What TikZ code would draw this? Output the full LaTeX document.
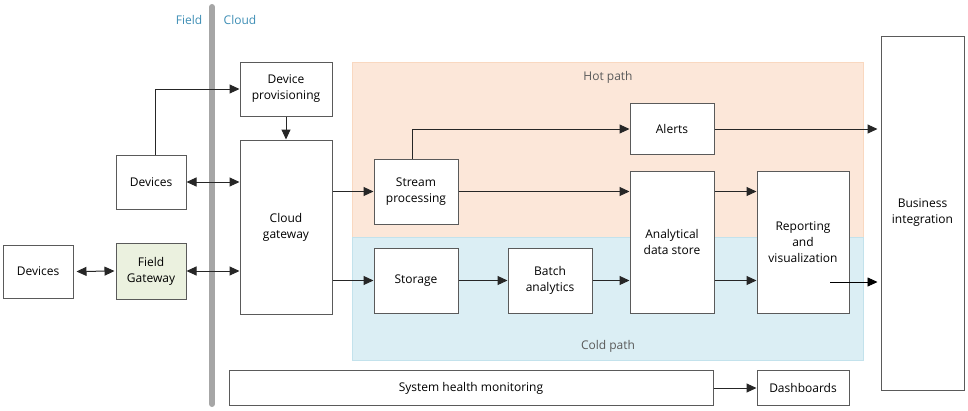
\documentclass[tikz,border=0pt]{standalone}
\usepackage{fontspec}
\setmainfont{Open Sans}
\usetikzlibrary{arrows.meta}
\definecolor{edge}{HTML}{5A5A5A}
\definecolor{hotfill}{HTML}{FCE7D9}
\definecolor{hotline}{HTML}{F9D8C0}
\definecolor{coldfill}{HTML}{DBEEF4}
\definecolor{coldline}{HTML}{C3E2EC}
\definecolor{gwfill}{HTML}{EBF1DF}
\definecolor{zone}{HTML}{3E8EB5}
\begin{document}
\begin{tikzpicture}[x=1pt,y=-1pt,
    font=\fontsize{12}{16}\selectfont,
    box/.style={draw=edge,line width=1pt,fill=white,align=center,inner sep=0pt},
    link/.style={draw=black!85,line width=1pt,-{Triangle[length=10pt,width=9pt]}},
    both/.style={link,{Triangle[length=10pt,width=9pt]}-{Triangle[length=10pt,width=9pt]}}]
  \useasboundingbox (0,0) rectangle (968,410);
  \draw[fill=hotfill,draw=hotline] (352,62) rectangle (863,237);
  \draw[fill=coldfill,draw=coldline] (352,237) rectangle (863,360);
  \node[text=edge] (hot) at (608,77) {Hot path};
  \node[text=edge] (cold) at (608,346) {Cold path};
  \draw[line width=6pt,color=black!35,line cap=round] (212,7) -- (212,404);
  \node[text=zone] (field) at (189,20) {Field};
  \node[text=zone] (cloud) at (240,20) {Cloud};

  \node[box,minimum width=70,minimum height=53] (devB) at (38,271.5) {Devices};
  \node[box,fill=gwfill,minimum width=70,minimum height=56] (fgw) at (151,271) {Field\\Gateway};
  \node[box,minimum width=70,minimum height=54] (devA) at (151,182) {Devices};
  \node[box,minimum width=92,minimum height=54] (prov) at (286,89) {Device\\provisioning};
  \node[box,minimum width=92,minimum height=174] (gw) at (286,227) {Cloud\\gateway};
  \node[box,minimum width=84,minimum height=65] (stream) at (416,191.5) {Stream\\processing};
  \node[box,minimum width=84,minimum height=65] (storage) at (416,280.5) {Storage};
  \node[box,minimum width=84,minimum height=65] (batch) at (550,280.5) {Batch\\analytics};
  \node[box,minimum width=84,minimum height=51] (alerts) at (672,129) {Alerts};
  \node[box,minimum width=84,minimum height=142] (ads) at (672,242) {Analytical\\data store};
  \node[box,minimum width=92,minimum height=142] (report) at (803,242) {Reporting\\and\\visualization};
  \node[box,minimum width=83,minimum height=354] (bi) at (922.5,213) {Business\\integration};
  \node[box,minimum width=484,minimum height=35] (health) at (471,388) {System health monitoring};
  \node[box,minimum width=92,minimum height=35] (dash) at (803,388) {Dashboards};
  \coordinate (out) at (830,282);

  \draw[both] ([xshift=3pt]devB.east) -- ([xshift=-1pt]fgw.west);
  \draw[both] (fgw.east) -- (fgw.east -| gw.west);
  \draw[both] (devA.east) -- (devA.east -| gw.west);
  \draw[link] ([xshift=4pt]devA.north) |- (prov.west);
  \draw[link] (prov.south) -- (gw.north);
  \draw[link] (gw.east |- stream.west) -- (stream.west);
  \draw[link] (gw.east |- storage.west) -- (storage.west);
  \draw[link] ([xshift=-4pt]stream.north) |- (alerts.west);
  \draw[link] (stream.east) -- (stream.east -| ads.west);
  \draw[link] (storage.east) -- (batch.west);
  \draw[link] (batch.east) -- (batch.east -| ads.west);
  \draw[link] (ads.east |- stream.east) -- (report.west |- stream.east);
  \draw[link] (ads.east |- batch.east) -- (report.west |- batch.east);
  \draw[link] (alerts.east) -- ([xshift=-3pt]alerts.east -| bi.west);
  \draw[link,draw=black,line width=0.8pt] (out) -- ([xshift=-3pt]out -| bi.west);
  \draw[link] (health.east) -- (dash.west);
\end{tikzpicture}
\end{document}
